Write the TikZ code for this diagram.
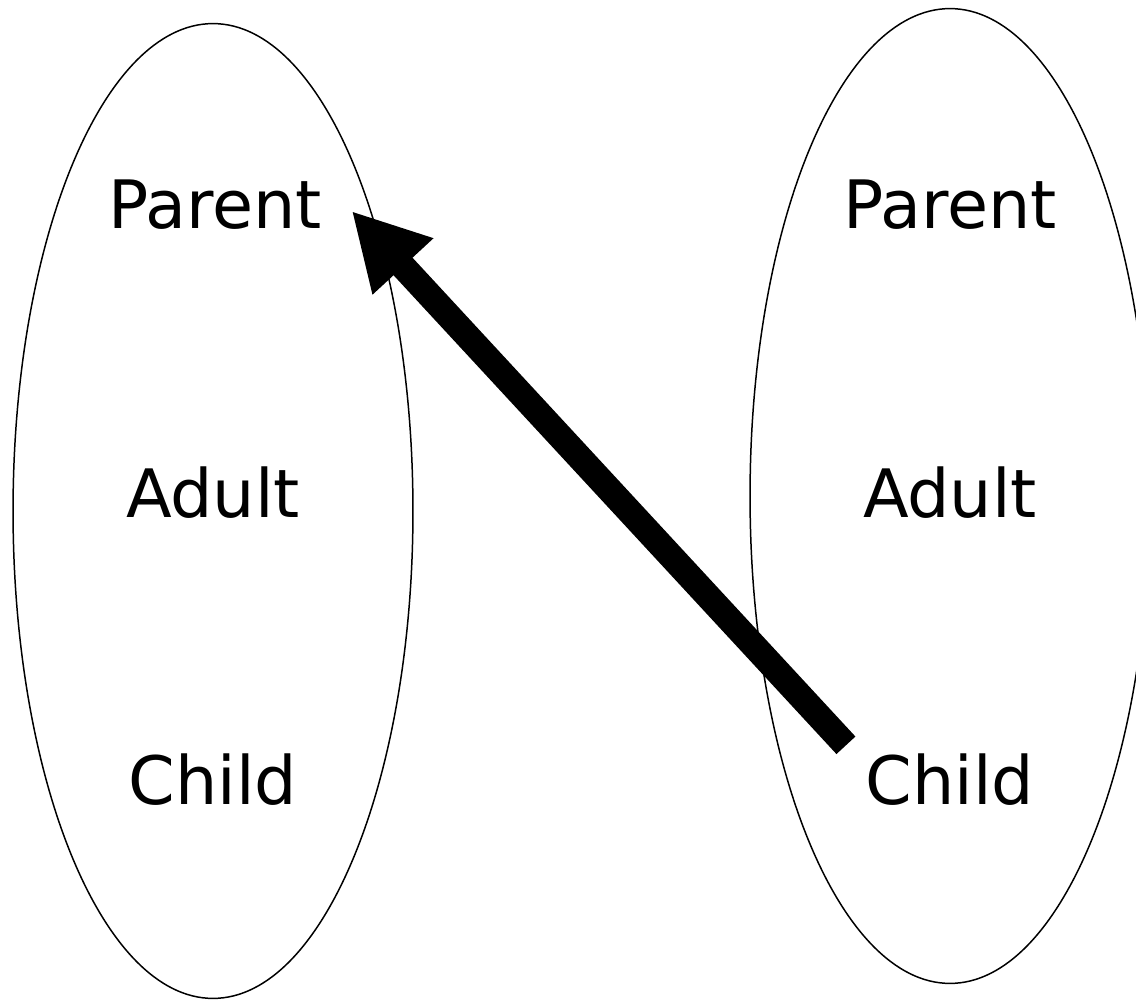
\documentclass[tikz,border=0pt]{standalone}
\usepackage{fontspec}
\setmainfont{DejaVu Sans}
\usepackage{tikz}
\usetikzlibrary{shapes,arrows.meta,positioning,calc}

\tikzset{
  group/.style={draw,ellipse,line width=0.85pt,minimum width=8cm,minimum height=19.5cm,inner sep=0pt},
  role/.style={font=\fontsize{38}{45}\selectfont,inner sep=2pt},
  bigarrow/.style={line width=14.7pt,-{Triangle[length=43pt,width=44pt]}}
}

\begin{document}
\begin{tikzpicture}[x=0.02cm,y=-0.02cm]
            \useasboundingbox (0,0) rectangle (1136,1000);
            % left group
            \node[group] (lgroup) at (213,511) {};
            \node[role] (lparent) at (215,205) {Parent};
            \node[role] (ladult) at (213,493) {Adult};
            \node[role] (lchild) at (213,780) {Child};

            % right group
            \node[group] (rgroup) at (950,496) {};
            \node[role] (rparent) at (950,205) {Parent};
            \node[role] (radult) at (950,493) {Adult};
            \node[role] (rchild) at (950,780) {Child};

            % transaction
            \coordinate (tail) at ($(rchild.north west)+(-16,-5)$);
            \coordinate (tip) at ($(lparent.east)+(26,6)$);
            \draw[bigarrow] (tail) -- (tip);
        \end{tikzpicture}
\end{document}
